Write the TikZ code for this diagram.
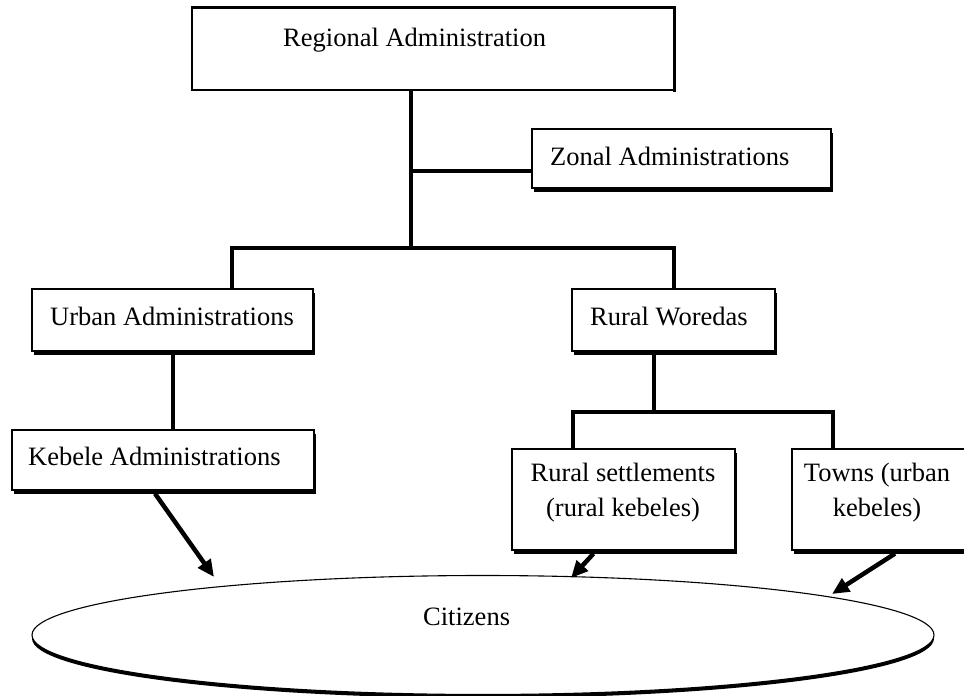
\documentclass[tikz,border=0pt]{standalone}
\usepackage{fontspec}
\setmainfont{Liberation Serif}
\usetikzlibrary{shapes.geometric,shadows,arrows.meta}
\begin{document}
\begin{tikzpicture}[x=1pt,y=-1pt,
  box/.style={draw,line width=1.2pt,fill=white,inner sep=0pt,
    drop shadow={shadow xshift=1.8pt,shadow yshift=-3.5pt,fill=black,opacity=1}},
  lbl/.style={inner sep=0pt,anchor=base west,font=\fontsize{26.5}{35}\selectfont},
  lblc/.style={inner sep=0pt,anchor=base,align=center,font=\fontsize{26.5}{35}\selectfont},
  conn/.style={line width=4pt},
  arr/.style={line width=4.5pt,-{Triangle[length=17pt,width=15pt]}}]
\useasboundingbox (0,0) rectangle (964,696);
\clip (0,0) rectangle (964,696);
\fill[white] (0,0) rectangle (964,696);

% boxes
\node[draw,line width=1.3pt,fill=white,inner sep=0pt,minimum width=482pt,minimum height=82pt] (reg) at (433,49) {};
\draw[line width=3pt] (reg.north west) -- (reg.north east);
\draw[line width=2.6pt] ([yshift=1pt]reg.north east) -- ([yshift=-1pt]reg.south east);
\node[box,minimum width=299pt,minimum height=59pt] (zon) at (681.5,158.5) {};
\node[box,minimum width=281pt,minimum height=62pt] (urb) at (172.5,320) {};
\node[box,minimum width=203pt,minimum height=62pt] (rw) at (673.5,320) {};
\node[box,minimum width=302pt,minimum height=60pt] (keb) at (163,460) {};
\node[box,minimum width=223pt,minimum height=101pt] (rs) at (623.5,499.5) {};
\node[box,minimum width=230pt,minimum height=101pt] (tw) at (907,499.5) {};
\node[ellipse,draw,line width=1.1pt,fill=white,inner sep=0pt,minimum width=902pt,minimum height=119pt,
  drop shadow={shadow xshift=0pt,shadow yshift=-3.5pt,fill=black,opacity=1}] (cit) at (483,635) {};

% texts
\node[lbl] (treg) at (283,46) {Regional Administration};
\node[lbl] (tzon) at (550,165) {Zonal Administrations};
\node[lbl] (turb) at (50,325) {Urban Administrations};
\node[lbl] (trw) at (590,325) {Rural Woredas};
\node[lbl] (tkeb) at (28,465) {Kebele Administrations};
\node[lblc] (trs) at (623,516) {Rural settlements\\(rural kebeles)};
\node[lblc] (ttw) at (877,516) {Towns (urban\\kebeles)};
\node[lbl] (tcit) at (423,625) {Citizens};

% junctions
\coordinate (j1) at (411,248);
\coordinate (ju) at (232,248);
\coordinate (jr) at (674,248);
\coordinate (jz) at (411,171);
\coordinate (j2) at (654,412);
\coordinate (j3) at (573,412);
\coordinate (j4) at (833,412);
\coordinate (e1) at (214,577);
\coordinate (e2) at (571,578);
\coordinate (e3) at (832,594);

% connectors
\draw[conn] (reg.south -| j1) -- (j1);
\draw[conn] (jz) -- (jz -| zon.west);
\draw[conn] (ju |- urb.north) -- (ju) -- (jr) -- (jr |- rw.north);
\draw[conn] (urb.south) -- (urb.south |- keb.north);
\draw[conn] (rw.south -| j2) -- (j2);
\draw[conn] (j3 |- rs.north) -- (j3) -- (j4) -- (j4 |- tw.north);

% arrows
\draw[arr] ([xshift=-8pt,yshift=-3pt]keb.south) -- (e1);
\draw[arr] ([xshift=-30pt,yshift=-3pt]rs.south) -- (e2);
\draw[arr] ([xshift=-12pt,yshift=-3pt]tw.south) -- (e3);
\end{tikzpicture}
\end{document}
